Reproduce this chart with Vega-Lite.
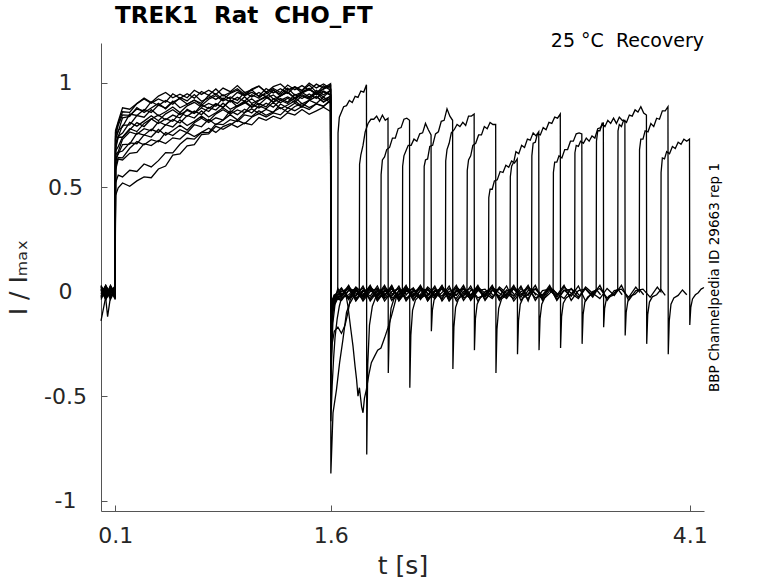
{
"$schema": "https://vega.github.io/schema/vega-lite/v6.json",
"width": 603,
"height": 468,
"autosize": {"type": "none"},
"padding": {"left": 101, "top": 43, "right": 74, "bottom": 72},
"background": "white",
"config": {
"view": {"stroke": null},
"font": "DejaVu Sans",
"axis": {"domainColor": "#555555", "tickColor": "#555555", "labelColor": "#262626", "titleColor": "#262626", "labelFont": "DejaVu Sans", "titleFont": "DejaVu Sans", "grid": false, "titleFontWeight": "normal", "labelFlush": false, "labelOverlap": false}
},
"title": {"text": "TREK1\u00a0\u00a0Rat\u00a0\u00a0CHO_FT", "anchor": "start", "frame": "group", "dx": 14, "dy": 19, "fontSize": 23, "fontWeight": "bold", "font": "DejaVu Sans", "color": "black", "offset": 5, "baseline": "alphabetic"},
"layer": [
{
"data": {"values": [
{"k":1,"t":0,"v":0.012},{"k":1,"t":0.033,"v":-0.025},{"k":1,"t":0.066,"v":0.03},{"k":1,"t":0.099,"v":-0.012},
{"k":1,"t":0.101,"v":0.771},{"k":1,"t":0.12,"v":0.814},{"k":1,"t":0.15,"v":0.88},{"k":1,"t":0.2,"v":0.873},{"k":1,"t":0.25,"v":0.9},{"k":1,"t":0.3,"v":0.927},{"k":1,"t":0.35,"v":0.905},{"k":1,"t":0.4,"v":0.936},{"k":1,"t":0.45,"v":0.953},{"k":1,"t":0.5,"v":0.928},{"k":1,"t":0.55,"v":0.945},{"k":1,"t":0.6,"v":0.928},{"k":1,"t":0.65,"v":0.964},{"k":1,"t":0.7,"v":0.944},{"k":1,"t":0.75,"v":0.964},{"k":1,"t":0.8,"v":0.944},{"k":1,"t":0.85,"v":0.974},{"k":1,"t":0.9,"v":0.957},{"k":1,"t":0.95,"v":0.986},{"k":1,"t":1.0,"v":0.953},{"k":1,"t":1.05,"v":0.966},{"k":1,"t":1.1,"v":0.983},{"k":1,"t":1.15,"v":0.953},{"k":1,"t":1.2,"v":0.981},{"k":1,"t":1.25,"v":0.994},{"k":1,"t":1.3,"v":0.965},{"k":1,"t":1.35,"v":0.981},{"k":1,"t":1.4,"v":0.963},{"k":1,"t":1.45,"v":0.998},{"k":1,"t":1.5,"v":0.975},{"k":1,"t":1.55,"v":0.994},{"k":1,"t":1.599,"v":0.972},
{"k":1,"t":1.601,"v":-0.15},{"k":1,"t":1.612,"v":-0.05},{"k":1,"t":1.63,"v":-0.02},{"k":1,"t":1.649,"v":0},
{"k":1,"t":1.651,"v":0.76},{"k":1,"t":1.66,"v":0.835},{"k":1,"t":1.675,"v":0.86},{"k":1,"t":1.69,"v":0.885},{"k":1,"t":1.71,"v":0.89},{"k":1,"t":1.73,"v":0.915},{"k":1,"t":1.75,"v":0.905},{"k":1,"t":1.77,"v":0.935},{"k":1,"t":1.79,"v":0.93},{"k":1,"t":1.81,"v":0.96},{"k":1,"t":1.83,"v":0.955},{"k":1,"t":1.849,"v":0.99},
{"k":1,"t":1.851,"v":-0.78},{"k":1,"t":1.858,"v":-0.35},{"k":1,"t":1.87,"v":-0.16},{"k":1,"t":1.89,"v":-0.07},{"k":1,"t":1.92,"v":-0.015},{"k":1,"t":1.95,"v":0.008},{"k":1,"t":1.98,"v":-0.015},

{"k":2,"t":0,"v":-0.03},{"k":2,"t":0.033,"v":0.02},{"k":2,"t":0.066,"v":-0.025},{"k":2,"t":0.099,"v":0.012},
{"k":2,"t":0.101,"v":0.762},{"k":2,"t":0.12,"v":0.806},{"k":2,"t":0.15,"v":0.861},{"k":2,"t":0.2,"v":0.858},{"k":2,"t":0.25,"v":0.9},{"k":2,"t":0.3,"v":0.922},{"k":2,"t":0.35,"v":0.902},{"k":2,"t":0.4,"v":0.922},{"k":2,"t":0.45,"v":0.907},{"k":2,"t":0.5,"v":0.947},{"k":2,"t":0.55,"v":0.925},{"k":2,"t":0.6,"v":0.947},{"k":2,"t":0.65,"v":0.926},{"k":2,"t":0.7,"v":0.958},{"k":2,"t":0.75,"v":0.94},{"k":2,"t":0.8,"v":0.97},{"k":2,"t":0.85,"v":0.937},{"k":2,"t":0.9,"v":0.953},{"k":2,"t":0.95,"v":0.971},{"k":2,"t":1.0,"v":0.943},{"k":2,"t":1.05,"v":0.97},{"k":2,"t":1.1,"v":0.984},{"k":2,"t":1.15,"v":0.955},{"k":2,"t":1.2,"v":0.972},{"k":2,"t":1.25,"v":0.953},{"k":2,"t":1.3,"v":0.989},{"k":2,"t":1.35,"v":0.966},{"k":2,"t":1.4,"v":0.986},{"k":2,"t":1.45,"v":0.964},{"k":2,"t":1.5,"v":0.993},{"k":2,"t":1.55,"v":0.974},{"k":2,"t":1.599,"v":0.995},
{"k":2,"t":1.601,"v":-0.87},{"k":2,"t":1.616,"v":-0.58},{"k":2,"t":1.64,"v":-0.47},{"k":2,"t":1.662,"v":-0.34},{"k":2,"t":1.685,"v":-0.23},{"k":2,"t":1.71,"v":-0.1},{"k":2,"t":1.73,"v":-0.06},{"k":2,"t":1.755,"v":-0.03},{"k":2,"t":1.775,"v":0.008},{"k":2,"t":1.799,"v":-0.022},
{"k":2,"t":1.801,"v":0.61},{"k":2,"t":1.81,"v":0.655},{"k":2,"t":1.825,"v":0.7},{"k":2,"t":1.84,"v":0.765},{"k":2,"t":1.86,"v":0.805},{"k":2,"t":1.88,"v":0.825},{"k":2,"t":1.9,"v":0.825},{"k":2,"t":1.92,"v":0.84},{"k":2,"t":1.94,"v":0.815},{"k":2,"t":1.96,"v":0.845},{"k":2,"t":1.98,"v":0.82},{"k":2,"t":1.999,"v":0.83},
{"k":2,"t":2.001,"v":-0.39},{"k":2,"t":2.008,"v":-0.18},{"k":2,"t":2.02,"v":-0.08},{"k":2,"t":2.04,"v":-0.035},{"k":2,"t":2.07,"v":-0.015},{"k":2,"t":2.1,"v":0.012},{"k":2,"t":2.13,"v":-0.018},

{"k":3,"t":0,"v":0.025},{"k":3,"t":0.033,"v":-0.012},{"k":3,"t":0.066,"v":0.008},{"k":3,"t":0.099,"v":-0.038},
{"k":3,"t":0.101,"v":0.744},{"k":3,"t":0.12,"v":0.796},{"k":3,"t":0.15,"v":0.846},{"k":3,"t":0.2,"v":0.844},{"k":3,"t":0.25,"v":0.874},{"k":3,"t":0.3,"v":0.865},{"k":3,"t":0.35,"v":0.909},{"k":3,"t":0.4,"v":0.891},{"k":3,"t":0.45,"v":0.915},{"k":3,"t":0.5,"v":0.897},{"k":3,"t":0.55,"v":0.929},{"k":3,"t":0.6,"v":0.913},{"k":3,"t":0.65,"v":0.943},{"k":3,"t":0.7,"v":0.911},{"k":3,"t":0.75,"v":0.927},{"k":3,"t":0.8,"v":0.947},{"k":3,"t":0.85,"v":0.919},{"k":3,"t":0.9,"v":0.949},{"k":3,"t":0.95,"v":0.964},{"k":3,"t":1.0,"v":0.938},{"k":3,"t":1.05,"v":0.954},{"k":3,"t":1.1,"v":0.936},{"k":3,"t":1.15,"v":0.972},{"k":3,"t":1.2,"v":0.951},{"k":3,"t":1.25,"v":0.971},{"k":3,"t":1.3,"v":0.949},{"k":3,"t":1.35,"v":0.979},{"k":3,"t":1.4,"v":0.961},{"k":3,"t":1.45,"v":0.989},{"k":3,"t":1.5,"v":0.955},{"k":3,"t":1.55,"v":0.969},{"k":3,"t":1.599,"v":0.987},
{"k":3,"t":1.601,"v":-0.62},{"k":3,"t":1.61,"v":-0.45},{"k":3,"t":1.62,"v":-0.32},{"k":3,"t":1.63,"v":-0.22},{"k":3,"t":1.645,"v":-0.13},{"k":3,"t":1.66,"v":-0.07},
{"k":3,"t":1.675,"v":-0.03},{"k":3,"t":1.725,"v":-0.015},{"k":3,"t":1.775,"v":0.018},{"k":3,"t":1.825,"v":-0.038},{"k":3,"t":1.875,"v":0.008},{"k":3,"t":1.925,"v":-0.022},{"k":3,"t":1.949,"v":0},
{"k":3,"t":1.951,"v":0.56},{"k":3,"t":1.96,"v":0.63},{"k":3,"t":1.975,"v":0.645},{"k":3,"t":1.99,"v":0.68},{"k":3,"t":2.01,"v":0.69},{"k":3,"t":2.03,"v":0.735},{"k":3,"t":2.05,"v":0.735},{"k":3,"t":2.07,"v":0.78},{"k":3,"t":2.09,"v":0.785},{"k":3,"t":2.11,"v":0.825},{"k":3,"t":2.13,"v":0.83},{"k":3,"t":2.149,"v":0.82},
{"k":3,"t":2.151,"v":-0.46},{"k":3,"t":2.158,"v":-0.21},{"k":3,"t":2.17,"v":-0.09},{"k":3,"t":2.19,"v":-0.04},{"k":3,"t":2.22,"v":-0.018},{"k":3,"t":2.25,"v":0.01},{"k":3,"t":2.28,"v":-0.015},

{"k":4,"t":0,"v":-0.012},{"k":4,"t":0.033,"v":0.03},{"k":4,"t":0.066,"v":-0.03},{"k":4,"t":0.099,"v":0.018},
{"k":4,"t":0.101,"v":0.726},{"k":4,"t":0.12,"v":0.772},{"k":4,"t":0.15,"v":0.789},{"k":4,"t":0.2,"v":0.85},{"k":4,"t":0.25,"v":0.843},{"k":4,"t":0.3,"v":0.872},{"k":4,"t":0.35,"v":0.858},{"k":4,"t":0.4,"v":0.893},{"k":4,"t":0.45,"v":0.879},{"k":4,"t":0.5,"v":0.912},{"k":4,"t":0.55,"v":0.88},{"k":4,"t":0.6,"v":0.897},{"k":4,"t":0.65,"v":0.917},{"k":4,"t":0.7,"v":0.891},{"k":4,"t":0.75,"v":0.921},{"k":4,"t":0.8,"v":0.938},{"k":4,"t":0.85,"v":0.912},{"k":4,"t":0.9,"v":0.932},{"k":4,"t":0.95,"v":0.915},{"k":4,"t":1.0,"v":0.954},{"k":4,"t":1.05,"v":0.932},{"k":4,"t":1.1,"v":0.953},{"k":4,"t":1.15,"v":0.932},{"k":4,"t":1.2,"v":0.963},{"k":4,"t":1.25,"v":0.945},{"k":4,"t":1.3,"v":0.974},{"k":4,"t":1.35,"v":0.94},{"k":4,"t":1.4,"v":0.955},{"k":4,"t":1.45,"v":0.973},{"k":4,"t":1.5,"v":0.943},{"k":4,"t":1.55,"v":0.971},{"k":4,"t":1.599,"v":0.986},
{"k":4,"t":1.601,"v":-0.3},{"k":4,"t":1.61,"v":-0.1},{"k":4,"t":1.625,"v":-0.04},{"k":4,"t":1.65,"v":0.015},{"k":4,"t":1.675,"v":-0.022},{"k":4,"t":1.7,"v":0.008},
{"k":4,"t":1.72,"v":-0.07},{"k":4,"t":1.74,"v":-0.18},{"k":4,"t":1.755,"v":-0.26},{"k":4,"t":1.77,"v":-0.36},{"k":4,"t":1.78,"v":-0.42},{"k":4,"t":1.79,"v":-0.5},{"k":4,"t":1.8,"v":-0.46},{"k":4,"t":1.815,"v":-0.55},{"k":4,"t":1.825,"v":-0.58},{"k":4,"t":1.835,"v":-0.51},{"k":4,"t":1.848,"v":-0.47},{"k":4,"t":1.865,"v":-0.4},{"k":4,"t":1.883,"v":-0.34},{"k":4,"t":1.905,"v":-0.31},{"k":4,"t":1.927,"v":-0.28},{"k":4,"t":1.95,"v":-0.27},{"k":4,"t":1.976,"v":-0.22},{"k":4,"t":2.0,"v":-0.17},{"k":4,"t":2.022,"v":-0.12},{"k":4,"t":2.045,"v":-0.06},{"k":4,"t":2.06,"v":-0.02},{"k":4,"t":2.075,"v":0.008},{"k":4,"t":2.099,"v":-0.015},
{"k":4,"t":2.101,"v":0.6},{"k":4,"t":2.11,"v":0.65},{"k":4,"t":2.125,"v":0.675},{"k":4,"t":2.14,"v":0.7},{"k":4,"t":2.16,"v":0.7},{"k":4,"t":2.18,"v":0.73},{"k":4,"t":2.2,"v":0.72},{"k":4,"t":2.22,"v":0.755},{"k":4,"t":2.24,"v":0.76},{"k":4,"t":2.26,"v":0.805},{"k":4,"t":2.28,"v":0.775},{"k":4,"t":2.299,"v":0.75},
{"k":4,"t":2.301,"v":-0.19},{"k":4,"t":2.308,"v":-0.09},{"k":4,"t":2.32,"v":-0.04},{"k":4,"t":2.34,"v":-0.02},{"k":4,"t":2.37,"v":-0.008},{"k":4,"t":2.4,"v":0.012},{"k":4,"t":2.43,"v":-0.018},

{"k":5,"t":0,"v":0.008},{"k":5,"t":0.033,"v":-0.038},{"k":5,"t":0.066,"v":0.02},{"k":5,"t":0.099,"v":-0.02},
{"k":5,"t":0.101,"v":0.708},{"k":5,"t":0.12,"v":0.742},{"k":5,"t":0.15,"v":0.796},{"k":5,"t":0.2,"v":0.798},{"k":5,"t":0.25,"v":0.843},{"k":5,"t":0.3,"v":0.835},{"k":5,"t":0.35,"v":0.871},{"k":5,"t":0.4,"v":0.842},{"k":5,"t":0.45,"v":0.861},{"k":5,"t":0.5,"v":0.884},{"k":5,"t":0.55,"v":0.857},{"k":5,"t":0.6,"v":0.889},{"k":5,"t":0.65,"v":0.906},{"k":5,"t":0.7,"v":0.882},{"k":5,"t":0.75,"v":0.901},{"k":5,"t":0.8,"v":0.887},{"k":5,"t":0.85,"v":0.926},{"k":5,"t":0.9,"v":0.908},{"k":5,"t":0.95,"v":0.93},{"k":5,"t":1.0,"v":0.911},{"k":5,"t":1.05,"v":0.942},{"k":5,"t":1.1,"v":0.926},{"k":5,"t":1.15,"v":0.955},{"k":5,"t":1.2,"v":0.922},{"k":5,"t":1.25,"v":0.937},{"k":5,"t":1.3,"v":0.956},{"k":5,"t":1.35,"v":0.927},{"k":5,"t":1.4,"v":0.956},{"k":5,"t":1.45,"v":0.97},{"k":5,"t":1.5,"v":0.943},{"k":5,"t":1.55,"v":0.96},{"k":5,"t":1.599,"v":0.943},
{"k":5,"t":1.601,"v":-0.4},{"k":5,"t":1.61,"v":-0.25},{"k":5,"t":1.625,"v":-0.19},{"k":5,"t":1.65,"v":-0.17},{"k":5,"t":1.675,"v":-0.2},{"k":5,"t":1.7,"v":-0.16},{"k":5,"t":1.72,"v":-0.1},{"k":5,"t":1.735,"v":-0.04},
{"k":5,"t":1.775,"v":0.015},{"k":5,"t":1.825,"v":-0.045},{"k":5,"t":1.875,"v":0},{"k":5,"t":1.925,"v":0.015},{"k":5,"t":1.975,"v":-0.03},{"k":5,"t":2.025,"v":-0.015},{"k":5,"t":2.075,"v":0.018},{"k":5,"t":2.125,"v":-0.038},{"k":5,"t":2.175,"v":0.008},{"k":5,"t":2.225,"v":-0.022},{"k":5,"t":2.249,"v":0},
{"k":5,"t":2.251,"v":0.6},{"k":5,"t":2.26,"v":0.63},{"k":5,"t":2.275,"v":0.635},{"k":5,"t":2.29,"v":0.695},{"k":5,"t":2.31,"v":0.7},{"k":5,"t":2.33,"v":0.755},{"k":5,"t":2.35,"v":0.765},{"k":5,"t":2.37,"v":0.815},{"k":5,"t":2.39,"v":0.82},{"k":5,"t":2.41,"v":0.875},{"k":5,"t":2.43,"v":0.84},{"k":5,"t":2.449,"v":0.82},
{"k":5,"t":2.451,"v":-0.37},{"k":5,"t":2.458,"v":-0.17},{"k":5,"t":2.47,"v":-0.075},{"k":5,"t":2.49,"v":-0.035},{"k":5,"t":2.52,"v":-0.015},{"k":5,"t":2.55,"v":0.008},{"k":5,"t":2.58,"v":-0.022},

{"k":6,"t":0,"v":-0.14},{"k":6,"t":0.033,"v":-0.025},{"k":6,"t":0.066,"v":0.025},{"k":6,"t":0.099,"v":-0.008},
{"k":6,"t":0.101,"v":0.69},{"k":6,"t":0.12,"v":0.744},{"k":6,"t":0.15,"v":0.759},{"k":6,"t":0.2,"v":0.81},{"k":6,"t":0.25,"v":0.792},{"k":6,"t":0.3,"v":0.816},{"k":6,"t":0.35,"v":0.842},{"k":6,"t":0.4,"v":0.818},{"k":6,"t":0.45,"v":0.851},{"k":6,"t":0.5,"v":0.871},{"k":6,"t":0.55,"v":0.847},{"k":6,"t":0.6,"v":0.867},{"k":6,"t":0.65,"v":0.853},{"k":6,"t":0.7,"v":0.894},{"k":6,"t":0.75,"v":0.876},{"k":6,"t":0.8,"v":0.9},{"k":6,"t":0.85,"v":0.882},{"k":6,"t":0.9,"v":0.917},{"k":6,"t":0.95,"v":0.901},{"k":6,"t":1.0,"v":0.933},{"k":6,"t":1.05,"v":0.901},{"k":6,"t":1.1,"v":0.917},{"k":6,"t":1.15,"v":0.936},{"k":6,"t":1.2,"v":0.908},{"k":6,"t":1.25,"v":0.938},{"k":6,"t":1.3,"v":0.953},{"k":6,"t":1.35,"v":0.926},{"k":6,"t":1.4,"v":0.943},{"k":6,"t":1.45,"v":0.926},{"k":6,"t":1.5,"v":0.963},{"k":6,"t":1.55,"v":0.942},{"k":6,"t":1.599,"v":0.964},
{"k":6,"t":1.601,"v":-0.22},{"k":6,"t":1.61,"v":-0.08},{"k":6,"t":1.625,"v":-0.035},
{"k":6,"t":1.675,"v":0.015},{"k":6,"t":1.725,"v":-0.03},{"k":6,"t":1.775,"v":-0.015},{"k":6,"t":1.825,"v":0.018},{"k":6,"t":1.875,"v":-0.038},{"k":6,"t":1.925,"v":0.008},{"k":6,"t":1.975,"v":-0.022},{"k":6,"t":2.025,"v":0.027},{"k":6,"t":2.075,"v":-0.045},{"k":6,"t":2.125,"v":0},{"k":6,"t":2.175,"v":0.015},{"k":6,"t":2.225,"v":-0.03},{"k":6,"t":2.275,"v":-0.015},{"k":6,"t":2.325,"v":0.018},{"k":6,"t":2.375,"v":-0.038},{"k":6,"t":2.399,"v":0},
{"k":6,"t":2.401,"v":0.625},{"k":6,"t":2.41,"v":0.68},{"k":6,"t":2.425,"v":0.71},{"k":6,"t":2.44,"v":0.76},{"k":6,"t":2.46,"v":0.775},{"k":6,"t":2.48,"v":0.8},{"k":6,"t":2.5,"v":0.79},{"k":6,"t":2.52,"v":0.81},{"k":6,"t":2.54,"v":0.795},{"k":6,"t":2.56,"v":0.84},{"k":6,"t":2.58,"v":0.84},{"k":6,"t":2.599,"v":0.85},
{"k":6,"t":2.601,"v":-0.28},{"k":6,"t":2.608,"v":-0.13},{"k":6,"t":2.62,"v":-0.06},{"k":6,"t":2.64,"v":-0.03},{"k":6,"t":2.67,"v":-0.015},{"k":6,"t":2.7,"v":0.01},{"k":6,"t":2.73,"v":-0.018},

{"k":7,"t":0,"v":0.02},{"k":7,"t":0.03,"v":-0.012},{"k":7,"t":0.046,"v":-0.12},{"k":7,"t":0.066,"v":-0.025},{"k":7,"t":0.099,"v":0.008},
{"k":7,"t":0.101,"v":0.672},{"k":7,"t":0.12,"v":0.694},{"k":7,"t":0.15,"v":0.74},{"k":7,"t":0.2,"v":0.78},{"k":7,"t":0.25,"v":0.766},{"k":7,"t":0.3,"v":0.805},{"k":7,"t":0.35,"v":0.827},{"k":7,"t":0.4,"v":0.805},{"k":7,"t":0.45,"v":0.827},{"k":7,"t":0.5,"v":0.815},{"k":7,"t":0.55,"v":0.856},{"k":7,"t":0.6,"v":0.839},{"k":7,"t":0.65,"v":0.864},{"k":7,"t":0.7,"v":0.847},{"k":7,"t":0.75,"v":0.882},{"k":7,"t":0.8,"v":0.869},{"k":7,"t":0.85,"v":0.902},{"k":7,"t":0.9,"v":0.873},{"k":7,"t":0.95,"v":0.89},{"k":7,"t":1.0,"v":0.912},{"k":7,"t":1.05,"v":0.885},{"k":7,"t":1.1,"v":0.915},{"k":7,"t":1.15,"v":0.931},{"k":7,"t":1.2,"v":0.906},{"k":7,"t":1.25,"v":0.924},{"k":7,"t":1.3,"v":0.907},{"k":7,"t":1.35,"v":0.944},{"k":7,"t":1.4,"v":0.924},{"k":7,"t":1.45,"v":0.946},{"k":7,"t":1.5,"v":0.925},{"k":7,"t":1.55,"v":0.956},{"k":7,"t":1.599,"v":0.94},
{"k":7,"t":1.601,"v":-0.12},{"k":7,"t":1.61,"v":-0.05},{"k":7,"t":1.625,"v":-0.02},
{"k":7,"t":1.675,"v":0.018},{"k":7,"t":1.725,"v":-0.038},{"k":7,"t":1.775,"v":0.008},{"k":7,"t":1.825,"v":-0.022},{"k":7,"t":1.875,"v":0.027},{"k":7,"t":1.925,"v":-0.045},{"k":7,"t":1.975,"v":0},{"k":7,"t":2.025,"v":0.015},{"k":7,"t":2.075,"v":-0.03},{"k":7,"t":2.125,"v":-0.015},{"k":7,"t":2.175,"v":0.018},{"k":7,"t":2.225,"v":-0.038},{"k":7,"t":2.275,"v":0.008},{"k":7,"t":2.325,"v":-0.022},{"k":7,"t":2.375,"v":0.027},{"k":7,"t":2.425,"v":-0.045},{"k":7,"t":2.475,"v":0},{"k":7,"t":2.525,"v":0.015},{"k":7,"t":2.549,"v":-0.015},
{"k":7,"t":2.551,"v":0.58},{"k":7,"t":2.56,"v":0.63},{"k":7,"t":2.575,"v":0.65},{"k":7,"t":2.59,"v":0.7},{"k":7,"t":2.61,"v":0.71},{"k":7,"t":2.63,"v":0.75},{"k":7,"t":2.65,"v":0.75},{"k":7,"t":2.67,"v":0.79},{"k":7,"t":2.69,"v":0.78},{"k":7,"t":2.71,"v":0.81},{"k":7,"t":2.73,"v":0.8},{"k":7,"t":2.749,"v":0.8},
{"k":7,"t":2.751,"v":-0.39},{"k":7,"t":2.758,"v":-0.18},{"k":7,"t":2.77,"v":-0.08},{"k":7,"t":2.79,"v":-0.035},{"k":7,"t":2.82,"v":-0.018},{"k":7,"t":2.85,"v":0.01},{"k":7,"t":2.88,"v":-0.015},

{"k":8,"t":0,"v":-0.025},{"k":8,"t":0.033,"v":0.025},{"k":8,"t":0.066,"v":-0.012},{"k":8,"t":0.099,"v":0.025},
{"k":8,"t":0.101,"v":0.654},{"k":8,"t":0.12,"v":0.67},{"k":8,"t":0.15,"v":0.729},{"k":8,"t":0.2,"v":0.764},{"k":8,"t":0.25,"v":0.753},{"k":8,"t":0.3,"v":0.78},{"k":8,"t":0.35,"v":0.77},{"k":8,"t":0.4,"v":0.813},{"k":8,"t":0.45,"v":0.797},{"k":8,"t":0.5,"v":0.824},{"k":8,"t":0.55,"v":0.807},{"k":8,"t":0.6,"v":0.843},{"k":8,"t":0.65,"v":0.831},{"k":8,"t":0.7,"v":0.865},{"k":8,"t":0.75,"v":0.836},{"k":8,"t":0.8,"v":0.856},{"k":8,"t":0.85,"v":0.88},{"k":8,"t":0.9,"v":0.856},{"k":8,"t":0.95,"v":0.887},{"k":8,"t":1.0,"v":0.906},{"k":8,"t":1.05,"v":0.881},{"k":8,"t":1.1,"v":0.9},{"k":8,"t":1.15,"v":0.884},{"k":8,"t":1.2,"v":0.923},{"k":8,"t":1.25,"v":0.904},{"k":8,"t":1.3,"v":0.926},{"k":8,"t":1.35,"v":0.905},{"k":8,"t":1.4,"v":0.937},{"k":8,"t":1.45,"v":0.921},{"k":8,"t":1.5,"v":0.951},{"k":8,"t":1.55,"v":0.919},{"k":8,"t":1.599,"v":0.935},
{"k":8,"t":1.601,"v":-0.3},{"k":8,"t":1.608,"v":-0.15},{"k":8,"t":1.62,"v":-0.06},{"k":8,"t":1.64,"v":-0.03},
{"k":8,"t":1.675,"v":-0.022},{"k":8,"t":1.725,"v":0.027},{"k":8,"t":1.775,"v":-0.045},{"k":8,"t":1.825,"v":0},{"k":8,"t":1.875,"v":0.015},{"k":8,"t":1.925,"v":-0.03},{"k":8,"t":1.975,"v":-0.015},{"k":8,"t":2.025,"v":0.018},{"k":8,"t":2.075,"v":-0.038},{"k":8,"t":2.125,"v":0.008},{"k":8,"t":2.175,"v":-0.022},{"k":8,"t":2.225,"v":0.027},{"k":8,"t":2.275,"v":-0.045},{"k":8,"t":2.325,"v":0},{"k":8,"t":2.375,"v":0.015},{"k":8,"t":2.425,"v":-0.03},{"k":8,"t":2.475,"v":-0.015},{"k":8,"t":2.525,"v":0.018},{"k":8,"t":2.575,"v":-0.038},{"k":8,"t":2.625,"v":0.008},{"k":8,"t":2.675,"v":-0.022},{"k":8,"t":2.699,"v":0.008},
{"k":8,"t":2.701,"v":0.45},{"k":8,"t":2.71,"v":0.49},{"k":8,"t":2.725,"v":0.49},{"k":8,"t":2.74,"v":0.53},{"k":8,"t":2.76,"v":0.535},{"k":8,"t":2.78,"v":0.575},{"k":8,"t":2.8,"v":0.57},{"k":8,"t":2.82,"v":0.605},{"k":8,"t":2.84,"v":0.595},{"k":8,"t":2.86,"v":0.625},{"k":8,"t":2.88,"v":0.615},{"k":8,"t":2.899,"v":0.635},
{"k":8,"t":2.901,"v":-0.3},{"k":8,"t":2.908,"v":-0.14},{"k":8,"t":2.92,"v":-0.06},{"k":8,"t":2.94,"v":-0.03},{"k":8,"t":2.97,"v":-0.015},{"k":8,"t":3.0,"v":0.01},{"k":8,"t":3.03,"v":-0.018},

{"k":9,"t":0,"v":0.03},{"k":9,"t":0.033,"v":-0.02},{"k":9,"t":0.066,"v":0.012},{"k":9,"t":0.099,"v":-0.025},
{"k":9,"t":0.101,"v":0.636},{"k":9,"t":0.12,"v":0.658},{"k":9,"t":0.15,"v":0.704},{"k":9,"t":0.2,"v":0.706},{"k":9,"t":0.25,"v":0.759},{"k":9,"t":0.3,"v":0.749},{"k":9,"t":0.35,"v":0.777},{"k":9,"t":0.4,"v":0.762},{"k":9,"t":0.45,"v":0.799},{"k":9,"t":0.5,"v":0.788},{"k":9,"t":0.55,"v":0.822},{"k":9,"t":0.6,"v":0.795},{"k":9,"t":0.65,"v":0.815},{"k":9,"t":0.7,"v":0.84},{"k":9,"t":0.75,"v":0.816},{"k":9,"t":0.8,"v":0.851},{"k":9,"t":0.85,"v":0.871},{"k":9,"t":0.9,"v":0.85},{"k":9,"t":0.95,"v":0.87},{"k":9,"t":1.0,"v":0.857},{"k":9,"t":1.05,"v":0.897},{"k":9,"t":1.1,"v":0.879},{"k":9,"t":1.15,"v":0.902},{"k":9,"t":1.2,"v":0.883},{"k":9,"t":1.25,"v":0.916},{"k":9,"t":1.3,"v":0.9},{"k":9,"t":1.35,"v":0.93},{"k":9,"t":1.4,"v":0.899},{"k":9,"t":1.45,"v":0.915},{"k":9,"t":1.5,"v":0.935},{"k":9,"t":1.55,"v":0.907},{"k":9,"t":1.599,"v":0.938},
{"k":9,"t":1.601,"v":-0.18},{"k":9,"t":1.61,"v":-0.07},{"k":9,"t":1.625,"v":-0.03},
{"k":9,"t":1.675,"v":0},{"k":9,"t":1.725,"v":0.015},{"k":9,"t":1.775,"v":-0.03},{"k":9,"t":1.825,"v":-0.015},{"k":9,"t":1.875,"v":0.018},{"k":9,"t":1.925,"v":-0.038},{"k":9,"t":1.975,"v":0.008},{"k":9,"t":2.025,"v":-0.022},{"k":9,"t":2.075,"v":0.027},{"k":9,"t":2.125,"v":-0.045},{"k":9,"t":2.175,"v":0},{"k":9,"t":2.225,"v":0.015},{"k":9,"t":2.275,"v":-0.03},{"k":9,"t":2.325,"v":-0.015},{"k":9,"t":2.375,"v":0.018},{"k":9,"t":2.425,"v":-0.038},{"k":9,"t":2.475,"v":0.008},{"k":9,"t":2.525,"v":-0.022},{"k":9,"t":2.575,"v":0.027},{"k":9,"t":2.625,"v":-0.045},{"k":9,"t":2.675,"v":0},{"k":9,"t":2.725,"v":0.015},{"k":9,"t":2.775,"v":-0.03},{"k":9,"t":2.825,"v":-0.015},{"k":9,"t":2.849,"v":0.008},
{"k":9,"t":2.851,"v":0.55},{"k":9,"t":2.86,"v":0.6},{"k":9,"t":2.875,"v":0.62},{"k":9,"t":2.89,"v":0.67},{"k":9,"t":2.91,"v":0.66},{"k":9,"t":2.93,"v":0.7},{"k":9,"t":2.95,"v":0.69},{"k":9,"t":2.97,"v":0.73},{"k":9,"t":2.99,"v":0.725},{"k":9,"t":3.01,"v":0.76},{"k":9,"t":3.03,"v":0.745},{"k":9,"t":3.049,"v":0.765},
{"k":9,"t":3.051,"v":-0.28},{"k":9,"t":3.058,"v":-0.13},{"k":9,"t":3.07,"v":-0.06},{"k":9,"t":3.09,"v":-0.03},{"k":9,"t":3.12,"v":-0.012},{"k":9,"t":3.15,"v":0.01},{"k":9,"t":3.18,"v":-0.018},

{"k":10,"t":0,"v":-0.008},{"k":10,"t":0.033,"v":0.012},{"k":10,"t":0.066,"v":-0.038},{"k":10,"t":0.099,"v":0.008},
{"k":10,"t":0.101,"v":0.618},{"k":10,"t":0.12,"v":0.666},{"k":10,"t":0.15,"v":0.673},{"k":10,"t":0.2,"v":0.712},{"k":10,"t":0.25,"v":0.708},{"k":10,"t":0.3,"v":0.75},{"k":10,"t":0.35,"v":0.74},{"k":10,"t":0.4,"v":0.776},{"k":10,"t":0.45,"v":0.749},{"k":10,"t":0.5,"v":0.771},{"k":10,"t":0.55,"v":0.796},{"k":10,"t":0.6,"v":0.773},{"k":10,"t":0.65,"v":0.808},{"k":10,"t":0.7,"v":0.83},{"k":10,"t":0.75,"v":0.809},{"k":10,"t":0.8,"v":0.832},{"k":10,"t":0.85,"v":0.821},{"k":10,"t":0.9,"v":0.865},{"k":10,"t":0.95,"v":0.847},{"k":10,"t":1.0,"v":0.873},{"k":10,"t":1.05,"v":0.855},{"k":10,"t":1.1,"v":0.889},{"k":10,"t":1.15,"v":0.875},{"k":10,"t":1.2,"v":0.906},{"k":10,"t":1.25,"v":0.876},{"k":10,"t":1.3,"v":0.893},{"k":10,"t":1.35,"v":0.913},{"k":10,"t":1.4,"v":0.886},{"k":10,"t":1.45,"v":0.916},{"k":10,"t":1.5,"v":0.933},{"k":10,"t":1.55,"v":0.908},{"k":10,"t":1.599,"v":0.926},
{"k":10,"t":1.601,"v":-0.25},{"k":10,"t":1.61,"v":-0.1},{"k":10,"t":1.63,"v":-0.04},
{"k":10,"t":1.675,"v":-0.015},{"k":10,"t":1.725,"v":0.018},{"k":10,"t":1.775,"v":-0.038},{"k":10,"t":1.825,"v":0.008},{"k":10,"t":1.875,"v":-0.022},{"k":10,"t":1.925,"v":0.027},{"k":10,"t":1.975,"v":-0.045},{"k":10,"t":2.025,"v":0},{"k":10,"t":2.075,"v":0.015},{"k":10,"t":2.125,"v":-0.03},{"k":10,"t":2.175,"v":-0.015},{"k":10,"t":2.225,"v":0.018},{"k":10,"t":2.275,"v":-0.038},{"k":10,"t":2.325,"v":0.008},{"k":10,"t":2.375,"v":-0.022},{"k":10,"t":2.425,"v":0.027},{"k":10,"t":2.475,"v":-0.045},{"k":10,"t":2.525,"v":0},{"k":10,"t":2.575,"v":0.015},{"k":10,"t":2.625,"v":-0.03},{"k":10,"t":2.675,"v":-0.015},{"k":10,"t":2.725,"v":0.018},{"k":10,"t":2.775,"v":-0.038},{"k":10,"t":2.825,"v":0.008},{"k":10,"t":2.875,"v":-0.022},{"k":10,"t":2.925,"v":0.027},{"k":10,"t":2.975,"v":-0.045},{"k":10,"t":2.999,"v":0},
{"k":10,"t":3.001,"v":0.65},{"k":10,"t":3.01,"v":0.71},{"k":10,"t":3.025,"v":0.715},{"k":10,"t":3.04,"v":0.755},{"k":10,"t":3.06,"v":0.75},{"k":10,"t":3.08,"v":0.785},{"k":10,"t":3.1,"v":0.775},{"k":10,"t":3.12,"v":0.81},{"k":10,"t":3.14,"v":0.805},{"k":10,"t":3.16,"v":0.835},{"k":10,"t":3.18,"v":0.83},{"k":10,"t":3.199,"v":0.85},
{"k":10,"t":3.201,"v":-0.27},{"k":10,"t":3.208,"v":-0.12},{"k":10,"t":3.22,"v":-0.055},{"k":10,"t":3.24,"v":-0.03},{"k":10,"t":3.27,"v":-0.015},{"k":10,"t":3.3,"v":0.01},{"k":10,"t":3.33,"v":-0.018},

{"k":11,"t":0,"v":0.02},{"k":11,"t":0.033,"v":-0.03},{"k":11,"t":0.066,"v":0.025},{"k":11,"t":0.099,"v":-0.012},
{"k":11,"t":0.101,"v":0.58},{"k":11,"t":0.12,"v":0.634},{"k":11,"t":0.15,"v":0.63},{"k":11,"t":0.2,"v":0.662},{"k":11,"t":0.25,"v":0.666},{"k":11,"t":0.3,"v":0.708},{"k":11,"t":0.35,"v":0.699},{"k":11,"t":0.4,"v":0.723},{"k":11,"t":0.45,"v":0.709},{"k":11,"t":0.5,"v":0.736},{"k":11,"t":0.55,"v":0.73},{"k":11,"t":0.6,"v":0.761},{"k":11,"t":0.65,"v":0.742},{"k":11,"t":0.7,"v":0.762},{"k":11,"t":0.75,"v":0.782},{"k":11,"t":0.8,"v":0.762},{"k":11,"t":0.85,"v":0.79},{"k":11,"t":0.9,"v":0.804},{"k":11,"t":0.95,"v":0.787},{"k":11,"t":1.0,"v":0.807},{"k":11,"t":1.05,"v":0.798},{"k":11,"t":1.1,"v":0.833},{"k":11,"t":1.15,"v":0.82},{"k":11,"t":1.2,"v":0.84},{"k":11,"t":1.25,"v":0.827},{"k":11,"t":1.3,"v":0.856},{"k":11,"t":1.35,"v":0.845},{"k":11,"t":1.4,"v":0.872},{"k":11,"t":1.45,"v":0.849},{"k":11,"t":1.5,"v":0.865},{"k":11,"t":1.55,"v":0.883},{"k":11,"t":1.599,"v":0.862},
{"k":11,"t":1.601,"v":-0.5},{"k":11,"t":1.606,"v":-0.3},{"k":11,"t":1.615,"v":-0.15},{"k":11,"t":1.63,"v":-0.06},{"k":11,"t":1.65,"v":-0.03},
{"k":11,"t":1.675,"v":0.012},{"k":11,"t":1.725,"v":-0.027},{"k":11,"t":1.775,"v":0.022},{"k":11,"t":1.825,"v":-0.008},{"k":11,"t":1.875,"v":-0.033},{"k":11,"t":1.925,"v":0.015},{"k":11,"t":1.975,"v":-0.018},{"k":11,"t":2.025,"v":0.03},{"k":11,"t":2.075,"v":-0.042},{"k":11,"t":2.125,"v":0.005},{"k":11,"t":2.175,"v":0.012},{"k":11,"t":2.225,"v":-0.027},{"k":11,"t":2.275,"v":0.022},{"k":11,"t":2.325,"v":-0.008},{"k":11,"t":2.375,"v":-0.033},{"k":11,"t":2.425,"v":0.015},{"k":11,"t":2.475,"v":-0.018},{"k":11,"t":2.525,"v":0.03},{"k":11,"t":2.575,"v":-0.042},{"k":11,"t":2.625,"v":0.005},{"k":11,"t":2.675,"v":0.012},{"k":11,"t":2.725,"v":-0.027},{"k":11,"t":2.775,"v":0.022},{"k":11,"t":2.825,"v":-0.008},{"k":11,"t":2.875,"v":-0.033},{"k":11,"t":2.925,"v":0.015},{"k":11,"t":2.975,"v":-0.018},{"k":11,"t":3.025,"v":0.03},{"k":11,"t":3.075,"v":-0.042},{"k":11,"t":3.125,"v":0.005},{"k":11,"t":3.149,"v":-0.008},
{"k":11,"t":3.151,"v":0.57},{"k":11,"t":3.16,"v":0.62},{"k":11,"t":3.175,"v":0.62},{"k":11,"t":3.19,"v":0.65},{"k":11,"t":3.21,"v":0.64},{"k":11,"t":3.23,"v":0.68},{"k":11,"t":3.25,"v":0.68},{"k":11,"t":3.27,"v":0.72},{"k":11,"t":3.29,"v":0.72},{"k":11,"t":3.31,"v":0.755},{"k":11,"t":3.33,"v":0.76},{"k":11,"t":3.349,"v":0.755},
{"k":11,"t":3.351,"v":-0.25},{"k":11,"t":3.358,"v":-0.11},{"k":11,"t":3.37,"v":-0.05},{"k":11,"t":3.39,"v":-0.025},{"k":11,"t":3.42,"v":-0.012},{"k":11,"t":3.45,"v":0.01},{"k":11,"t":3.48,"v":-0.015},

{"k":12,"t":0,"v":-0.038},{"k":12,"t":0.033,"v":0.008},{"k":12,"t":0.066,"v":-0.012},{"k":12,"t":0.099,"v":0.03},
{"k":12,"t":0.101,"v":0.52},{"k":12,"t":0.12,"v":0.558},{"k":12,"t":0.15,"v":0.549},{"k":12,"t":0.2,"v":0.581},{"k":12,"t":0.25,"v":0.575},{"k":12,"t":0.3,"v":0.611},{"k":12,"t":0.35,"v":0.597},{"k":12,"t":0.4,"v":0.627},{"k":12,"t":0.45,"v":0.665},{"k":12,"t":0.5,"v":0.664},{"k":12,"t":0.55,"v":0.705},{"k":12,"t":0.6,"v":0.734},{"k":12,"t":0.65,"v":0.73},{"k":12,"t":0.7,"v":0.762},{"k":12,"t":0.75,"v":0.761},{"k":12,"t":0.8,"v":0.803},{"k":12,"t":0.85,"v":0.799},{"k":12,"t":0.9,"v":0.823},{"k":12,"t":0.95,"v":0.814},{"k":12,"t":1.0,"v":0.846},{"k":12,"t":1.05,"v":0.838},{"k":12,"t":1.1,"v":0.866},{"k":12,"t":1.15,"v":0.844},{"k":12,"t":1.2,"v":0.861},{"k":12,"t":1.25,"v":0.88},{"k":12,"t":1.3,"v":0.86},{"k":12,"t":1.35,"v":0.886},{"k":12,"t":1.4,"v":0.9},{"k":12,"t":1.45,"v":0.881},{"k":12,"t":1.5,"v":0.898},{"k":12,"t":1.55,"v":0.886},{"k":12,"t":1.599,"v":0.918},
{"k":12,"t":1.601,"v":-0.14},{"k":12,"t":1.61,"v":-0.06},{"k":12,"t":1.625,"v":-0.02},
{"k":12,"t":1.675,"v":-0.008},{"k":12,"t":1.725,"v":-0.033},{"k":12,"t":1.775,"v":0.015},{"k":12,"t":1.825,"v":-0.018},{"k":12,"t":1.875,"v":0.03},{"k":12,"t":1.925,"v":-0.042},{"k":12,"t":1.975,"v":0.005},{"k":12,"t":2.025,"v":0.012},{"k":12,"t":2.075,"v":-0.027},{"k":12,"t":2.125,"v":0.022},{"k":12,"t":2.175,"v":-0.008},{"k":12,"t":2.225,"v":-0.033},{"k":12,"t":2.275,"v":0.015},{"k":12,"t":2.325,"v":-0.018},{"k":12,"t":2.375,"v":0.03},{"k":12,"t":2.425,"v":-0.042},{"k":12,"t":2.475,"v":0.005},{"k":12,"t":2.525,"v":0.012},{"k":12,"t":2.575,"v":-0.027},{"k":12,"t":2.625,"v":0.022},{"k":12,"t":2.675,"v":-0.008},{"k":12,"t":2.725,"v":-0.033},{"k":12,"t":2.775,"v":0.015},{"k":12,"t":2.825,"v":-0.018},{"k":12,"t":2.875,"v":0.03},{"k":12,"t":2.925,"v":-0.042},{"k":12,"t":2.975,"v":0.005},{"k":12,"t":3.025,"v":0.012},{"k":12,"t":3.075,"v":-0.027},{"k":12,"t":3.125,"v":0.022},{"k":12,"t":3.175,"v":-0.008},{"k":12,"t":3.225,"v":-0.033},{"k":12,"t":3.275,"v":0.015},{"k":12,"t":3.299,"v":0},
{"k":12,"t":3.301,"v":0.665},{"k":12,"t":3.31,"v":0.7},{"k":12,"t":3.325,"v":0.695},{"k":12,"t":3.34,"v":0.72},{"k":12,"t":3.36,"v":0.71},{"k":12,"t":3.38,"v":0.735},{"k":12,"t":3.4,"v":0.72},{"k":12,"t":3.42,"v":0.745},{"k":12,"t":3.44,"v":0.735},{"k":12,"t":3.46,"v":0.78},{"k":12,"t":3.48,"v":0.785},{"k":12,"t":3.499,"v":0.81},
{"k":12,"t":3.501,"v":-0.17},{"k":12,"t":3.508,"v":-0.08},{"k":12,"t":3.52,"v":-0.035},{"k":12,"t":3.54,"v":-0.02},{"k":12,"t":3.57,"v":-0.01},{"k":12,"t":3.6,"v":0.012},{"k":12,"t":3.63,"v":-0.015},

{"k":13,"t":0,"v":0},{"k":13,"t":0.033,"v":0.025},{"k":13,"t":0.066,"v":-0.025},{"k":13,"t":0.099,"v":-0.008},
{"k":13,"t":0.101,"v":0.46},{"k":13,"t":0.12,"v":0.497},{"k":13,"t":0.15,"v":0.52},{"k":13,"t":0.2,"v":0.504},{"k":13,"t":0.25,"v":0.53},{"k":13,"t":0.3,"v":0.549},{"k":13,"t":0.35,"v":0.545},{"k":13,"t":0.4,"v":0.587},{"k":13,"t":0.45,"v":0.601},{"k":13,"t":0.5,"v":0.653},{"k":13,"t":0.55,"v":0.659},{"k":13,"t":0.6,"v":0.698},{"k":13,"t":0.65,"v":0.704},{"k":13,"t":0.7,"v":0.751},{"k":13,"t":0.75,"v":0.755},{"k":13,"t":0.8,"v":0.791},{"k":13,"t":0.85,"v":0.777},{"k":13,"t":0.9,"v":0.797},{"k":13,"t":0.95,"v":0.82},{"k":13,"t":1.0,"v":0.804},{"k":13,"t":1.05,"v":0.835},{"k":13,"t":1.1,"v":0.852},{"k":13,"t":1.15,"v":0.836},{"k":13,"t":1.2,"v":0.855},{"k":13,"t":1.25,"v":0.846},{"k":13,"t":1.3,"v":0.879},{"k":13,"t":1.35,"v":0.866},{"k":13,"t":1.4,"v":0.886},{"k":13,"t":1.45,"v":0.872},{"k":13,"t":1.5,"v":0.899},{"k":13,"t":1.55,"v":0.888},{"k":13,"t":1.599,"v":0.913},
{"k":13,"t":1.601,"v":-0.2},{"k":13,"t":1.61,"v":-0.09},{"k":13,"t":1.63,"v":-0.03},
{"k":13,"t":1.675,"v":-0.018},{"k":13,"t":1.725,"v":0.03},{"k":13,"t":1.775,"v":-0.042},{"k":13,"t":1.825,"v":0.005},{"k":13,"t":1.875,"v":0.012},{"k":13,"t":1.925,"v":-0.027},{"k":13,"t":1.975,"v":0.022},{"k":13,"t":2.025,"v":-0.008},{"k":13,"t":2.075,"v":-0.033},{"k":13,"t":2.125,"v":0.015},{"k":13,"t":2.175,"v":-0.018},{"k":13,"t":2.225,"v":0.03},{"k":13,"t":2.275,"v":-0.042},{"k":13,"t":2.325,"v":0.005},{"k":13,"t":2.375,"v":0.012},{"k":13,"t":2.425,"v":-0.027},{"k":13,"t":2.475,"v":0.022},{"k":13,"t":2.525,"v":-0.008},{"k":13,"t":2.575,"v":-0.033},{"k":13,"t":2.625,"v":0.015},{"k":13,"t":2.675,"v":-0.018},{"k":13,"t":2.725,"v":0.03},{"k":13,"t":2.775,"v":-0.042},{"k":13,"t":2.825,"v":0.005},{"k":13,"t":2.875,"v":0.012},{"k":13,"t":2.925,"v":-0.027},{"k":13,"t":2.975,"v":0.022},{"k":13,"t":3.025,"v":-0.008},{"k":13,"t":3.075,"v":-0.033},{"k":13,"t":3.125,"v":0.015},{"k":13,"t":3.175,"v":-0.018},{"k":13,"t":3.225,"v":0.03},{"k":13,"t":3.275,"v":-0.042},{"k":13,"t":3.325,"v":0.005},{"k":13,"t":3.375,"v":0.012},{"k":13,"t":3.425,"v":-0.027},{"k":13,"t":3.449,"v":0},
{"k":13,"t":3.451,"v":0.72},{"k":13,"t":3.46,"v":0.77},{"k":13,"t":3.475,"v":0.77},{"k":13,"t":3.49,"v":0.805},{"k":13,"t":3.51,"v":0.79},{"k":13,"t":3.53,"v":0.82},{"k":13,"t":3.55,"v":0.805},{"k":13,"t":3.57,"v":0.83},{"k":13,"t":3.59,"v":0.805},{"k":13,"t":3.61,"v":0.835},{"k":13,"t":3.63,"v":0.82},{"k":13,"t":3.649,"v":0.82},
{"k":13,"t":3.651,"v":-0.21},{"k":13,"t":3.658,"v":-0.1},{"k":13,"t":3.67,"v":-0.045},{"k":13,"t":3.69,"v":-0.02},{"k":13,"t":3.72,"v":-0.012},{"k":13,"t":3.75,"v":0.01},{"k":13,"t":3.78,"v":-0.015},

{"k":14,"t":0,"v":0.025},{"k":14,"t":0.033,"v":-0.008},{"k":14,"t":0.066,"v":0.02},{"k":14,"t":0.099,"v":-0.03},
{"k":14,"t":0.101,"v":0.735},{"k":14,"t":0.12,"v":0.766},{"k":14,"t":0.15,"v":0.832},{"k":14,"t":0.2,"v":0.839},{"k":14,"t":0.25,"v":0.881},{"k":14,"t":0.3,"v":0.857},{"k":14,"t":0.35,"v":0.879},{"k":14,"t":0.4,"v":0.901},{"k":14,"t":0.45,"v":0.875},{"k":14,"t":0.5,"v":0.907},{"k":14,"t":0.55,"v":0.923},{"k":14,"t":0.6,"v":0.898},{"k":14,"t":0.65,"v":0.916},{"k":14,"t":0.7,"v":0.901},{"k":14,"t":0.75,"v":0.939},{"k":14,"t":0.8,"v":0.92},{"k":14,"t":0.85,"v":0.942},{"k":14,"t":0.9,"v":0.922},{"k":14,"t":0.95,"v":0.954},{"k":14,"t":1.0,"v":0.938},{"k":14,"t":1.05,"v":0.966},{"k":14,"t":1.1,"v":0.933},{"k":14,"t":1.15,"v":0.947},{"k":14,"t":1.2,"v":0.966},{"k":14,"t":1.25,"v":0.936},{"k":14,"t":1.3,"v":0.964},{"k":14,"t":1.35,"v":0.978},{"k":14,"t":1.4,"v":0.951},{"k":14,"t":1.45,"v":0.967},{"k":14,"t":1.5,"v":0.949},{"k":14,"t":1.55,"v":0.985},{"k":14,"t":1.599,"v":0.964},
{"k":14,"t":1.601,"v":-0.1},{"k":14,"t":1.61,"v":-0.04},{"k":14,"t":1.625,"v":-0.015},
{"k":14,"t":1.675,"v":-0.038},{"k":14,"t":1.725,"v":0.008},{"k":14,"t":1.775,"v":-0.022},{"k":14,"t":1.825,"v":0.027},{"k":14,"t":1.875,"v":-0.045},{"k":14,"t":1.925,"v":0},{"k":14,"t":1.975,"v":0.015},{"k":14,"t":2.025,"v":-0.03},{"k":14,"t":2.075,"v":-0.015},{"k":14,"t":2.125,"v":0.018},{"k":14,"t":2.175,"v":-0.038},{"k":14,"t":2.225,"v":0.008},{"k":14,"t":2.275,"v":-0.022},{"k":14,"t":2.325,"v":0.027},{"k":14,"t":2.375,"v":-0.045},{"k":14,"t":2.425,"v":0},{"k":14,"t":2.475,"v":0.015},{"k":14,"t":2.525,"v":-0.03},{"k":14,"t":2.575,"v":-0.015},{"k":14,"t":2.625,"v":0.018},{"k":14,"t":2.675,"v":-0.038},{"k":14,"t":2.725,"v":0.008},{"k":14,"t":2.775,"v":-0.022},{"k":14,"t":2.825,"v":0.027},{"k":14,"t":2.875,"v":-0.045},{"k":14,"t":2.925,"v":0},{"k":14,"t":2.975,"v":0.015},{"k":14,"t":3.025,"v":-0.03},{"k":14,"t":3.075,"v":-0.015},{"k":14,"t":3.125,"v":0.018},{"k":14,"t":3.175,"v":-0.038},{"k":14,"t":3.225,"v":0.008},{"k":14,"t":3.275,"v":-0.022},{"k":14,"t":3.325,"v":0.027},{"k":14,"t":3.375,"v":-0.045},{"k":14,"t":3.425,"v":0},{"k":14,"t":3.475,"v":0.015},{"k":14,"t":3.525,"v":-0.03},{"k":14,"t":3.575,"v":-0.015},{"k":14,"t":3.599,"v":0.008},
{"k":14,"t":3.601,"v":0.77},{"k":14,"t":3.61,"v":0.8},{"k":14,"t":3.625,"v":0.79},{"k":14,"t":3.64,"v":0.82},{"k":14,"t":3.66,"v":0.81},{"k":14,"t":3.68,"v":0.845},{"k":14,"t":3.7,"v":0.84},{"k":14,"t":3.72,"v":0.87},{"k":14,"t":3.74,"v":0.86},{"k":14,"t":3.76,"v":0.885},{"k":14,"t":3.78,"v":0.855},{"k":14,"t":3.799,"v":0.845},
{"k":14,"t":3.801,"v":-0.25},{"k":14,"t":3.808,"v":-0.11},{"k":14,"t":3.82,"v":-0.05},{"k":14,"t":3.84,"v":-0.025},{"k":14,"t":3.87,"v":-0.015},{"k":14,"t":3.9,"v":0.01},{"k":14,"t":3.93,"v":-0.018},

{"k":15,"t":0,"v":-0.02},{"k":15,"t":0.033,"v":0.03},{"k":15,"t":0.066,"v":-0.008},{"k":15,"t":0.099,"v":0.012},
{"k":15,"t":0.101,"v":0.681},{"k":15,"t":0.12,"v":0.74},{"k":15,"t":0.15,"v":0.739},{"k":15,"t":0.2,"v":0.775},{"k":15,"t":0.25,"v":0.809},{"k":15,"t":0.3,"v":0.79},{"k":15,"t":0.35,"v":0.826},{"k":15,"t":0.4,"v":0.845},{"k":15,"t":0.45,"v":0.823},{"k":15,"t":0.5,"v":0.845},{"k":15,"t":0.55,"v":0.831},{"k":15,"t":0.6,"v":0.872},{"k":15,"t":0.65,"v":0.854},{"k":15,"t":0.7,"v":0.879},{"k":15,"t":0.75,"v":0.862},{"k":15,"t":0.8,"v":0.897},{"k":15,"t":0.85,"v":0.883},{"k":15,"t":0.9,"v":0.916},{"k":15,"t":0.95,"v":0.885},{"k":15,"t":1.0,"v":0.902},{"k":15,"t":1.05,"v":0.923},{"k":15,"t":1.1,"v":0.895},{"k":15,"t":1.15,"v":0.925},{"k":15,"t":1.2,"v":0.941},{"k":15,"t":1.25,"v":0.915},{"k":15,"t":1.3,"v":0.932},{"k":15,"t":1.35,"v":0.915},{"k":15,"t":1.4,"v":0.953},{"k":15,"t":1.45,"v":0.932},{"k":15,"t":1.5,"v":0.953},{"k":15,"t":1.55,"v":0.932},{"k":15,"t":1.599,"v":0.964},
{"k":15,"t":1.601,"v":-0.35},{"k":15,"t":1.607,"v":-0.2},{"k":15,"t":1.617,"v":-0.09},{"k":15,"t":1.635,"v":-0.04},
{"k":15,"t":1.675,"v":-0.027},{"k":15,"t":1.725,"v":0.022},{"k":15,"t":1.775,"v":-0.008},{"k":15,"t":1.825,"v":-0.033},{"k":15,"t":1.875,"v":0.015},{"k":15,"t":1.925,"v":-0.018},{"k":15,"t":1.975,"v":0.03},{"k":15,"t":2.025,"v":-0.042},{"k":15,"t":2.075,"v":0.005},{"k":15,"t":2.125,"v":0.012},{"k":15,"t":2.175,"v":-0.027},{"k":15,"t":2.225,"v":0.022},{"k":15,"t":2.275,"v":-0.008},{"k":15,"t":2.325,"v":-0.033},{"k":15,"t":2.375,"v":0.015},{"k":15,"t":2.425,"v":-0.018},{"k":15,"t":2.475,"v":0.03},{"k":15,"t":2.525,"v":-0.042},{"k":15,"t":2.575,"v":0.005},{"k":15,"t":2.625,"v":0.012},{"k":15,"t":2.675,"v":-0.027},{"k":15,"t":2.725,"v":0.022},{"k":15,"t":2.775,"v":-0.008},{"k":15,"t":2.825,"v":-0.033},{"k":15,"t":2.875,"v":0.015},{"k":15,"t":2.925,"v":-0.018},{"k":15,"t":2.975,"v":0.03},{"k":15,"t":3.025,"v":-0.042},{"k":15,"t":3.075,"v":0.005},{"k":15,"t":3.125,"v":0.012},{"k":15,"t":3.175,"v":-0.027},{"k":15,"t":3.225,"v":0.022},{"k":15,"t":3.275,"v":-0.008},{"k":15,"t":3.325,"v":-0.033},{"k":15,"t":3.375,"v":0.015},{"k":15,"t":3.425,"v":-0.018},{"k":15,"t":3.475,"v":0.03},{"k":15,"t":3.525,"v":-0.042},{"k":15,"t":3.575,"v":0.005},{"k":15,"t":3.625,"v":0.012},{"k":15,"t":3.675,"v":-0.027},{"k":15,"t":3.725,"v":0.022},{"k":15,"t":3.749,"v":0},
{"k":15,"t":3.751,"v":0.68},{"k":15,"t":3.76,"v":0.73},{"k":15,"t":3.775,"v":0.73},{"k":15,"t":3.79,"v":0.77},{"k":15,"t":3.81,"v":0.765},{"k":15,"t":3.83,"v":0.805},{"k":15,"t":3.85,"v":0.79},{"k":15,"t":3.87,"v":0.83},{"k":15,"t":3.89,"v":0.825},{"k":15,"t":3.91,"v":0.865},{"k":15,"t":3.93,"v":0.865},{"k":15,"t":3.949,"v":0.885},
{"k":15,"t":3.951,"v":-0.3},{"k":15,"t":3.958,"v":-0.14},{"k":15,"t":3.97,"v":-0.06},{"k":15,"t":3.99,"v":-0.03},{"k":15,"t":4.02,"v":-0.018},{"k":15,"t":4.05,"v":0.008},{"k":15,"t":4.08,"v":-0.015},

{"k":16,"t":0,"v":0.012},{"k":16,"t":0.033,"v":-0.038},{"k":16,"t":0.066,"v":0},{"k":16,"t":0.099,"v":0.025},
{"k":16,"t":0.101,"v":0.6},{"k":16,"t":0.12,"v":0.642},{"k":16,"t":0.15,"v":0.64},{"k":16,"t":0.2,"v":0.686},{"k":16,"t":0.25,"v":0.718},{"k":16,"t":0.3,"v":0.703},{"k":16,"t":0.35,"v":0.727},{"k":16,"t":0.4,"v":0.717},{"k":16,"t":0.45,"v":0.761},{"k":16,"t":0.5,"v":0.747},{"k":16,"t":0.55,"v":0.775},{"k":16,"t":0.6,"v":0.761},{"k":16,"t":0.65,"v":0.799},{"k":16,"t":0.7,"v":0.789},{"k":16,"t":0.75,"v":0.825},{"k":16,"t":0.8,"v":0.799},{"k":16,"t":0.85,"v":0.821},{"k":16,"t":0.9,"v":0.847},{"k":16,"t":0.95,"v":0.822},{"k":16,"t":1.0,"v":0.856},{"k":16,"t":1.05,"v":0.875},{"k":16,"t":1.1,"v":0.852},{"k":16,"t":1.15,"v":0.872},{"k":16,"t":1.2,"v":0.858},{"k":16,"t":1.25,"v":0.898},{"k":16,"t":1.3,"v":0.879},{"k":16,"t":1.35,"v":0.902},{"k":16,"t":1.4,"v":0.883},{"k":16,"t":1.45,"v":0.916},{"k":16,"t":1.5,"v":0.901},{"k":16,"t":1.55,"v":0.932},{"k":16,"t":1.599,"v":0.901},
{"k":16,"t":1.601,"v":-0.16},{"k":16,"t":1.61,"v":-0.07},{"k":16,"t":1.625,"v":-0.03},
{"k":16,"t":1.675,"v":-0.042},{"k":16,"t":1.725,"v":0.005},{"k":16,"t":1.775,"v":0.012},{"k":16,"t":1.825,"v":-0.027},{"k":16,"t":1.875,"v":0.022},{"k":16,"t":1.925,"v":-0.008},{"k":16,"t":1.975,"v":-0.033},{"k":16,"t":2.025,"v":0.015},{"k":16,"t":2.075,"v":-0.018},{"k":16,"t":2.125,"v":0.03},{"k":16,"t":2.175,"v":-0.042},{"k":16,"t":2.225,"v":0.005},{"k":16,"t":2.275,"v":0.012},{"k":16,"t":2.325,"v":-0.027},{"k":16,"t":2.375,"v":0.022},{"k":16,"t":2.425,"v":-0.008},{"k":16,"t":2.475,"v":-0.033},{"k":16,"t":2.525,"v":0.015},{"k":16,"t":2.575,"v":-0.018},{"k":16,"t":2.625,"v":0.03},{"k":16,"t":2.675,"v":-0.042},{"k":16,"t":2.725,"v":0.005},{"k":16,"t":2.775,"v":0.012},{"k":16,"t":2.825,"v":-0.027},{"k":16,"t":2.875,"v":0.022},{"k":16,"t":2.925,"v":-0.008},{"k":16,"t":2.975,"v":-0.033},{"k":16,"t":3.025,"v":0.015},{"k":16,"t":3.075,"v":-0.018},{"k":16,"t":3.125,"v":0.03},{"k":16,"t":3.175,"v":-0.042},{"k":16,"t":3.225,"v":0.005},{"k":16,"t":3.275,"v":0.012},{"k":16,"t":3.325,"v":-0.027},{"k":16,"t":3.375,"v":0.022},{"k":16,"t":3.425,"v":-0.008},{"k":16,"t":3.475,"v":-0.033},{"k":16,"t":3.525,"v":0.015},{"k":16,"t":3.575,"v":-0.018},{"k":16,"t":3.625,"v":0.03},{"k":16,"t":3.675,"v":-0.042},{"k":16,"t":3.725,"v":0.005},{"k":16,"t":3.775,"v":0.012},{"k":16,"t":3.825,"v":-0.027},{"k":16,"t":3.875,"v":0.022},{"k":16,"t":3.899,"v":0},
{"k":16,"t":3.901,"v":0.57},{"k":16,"t":3.91,"v":0.64},{"k":16,"t":3.925,"v":0.635},{"k":16,"t":3.94,"v":0.67},{"k":16,"t":3.96,"v":0.66},{"k":16,"t":3.98,"v":0.695},{"k":16,"t":4.0,"v":0.685},{"k":16,"t":4.02,"v":0.715},{"k":16,"t":4.04,"v":0.705},{"k":16,"t":4.06,"v":0.73},{"k":16,"t":4.08,"v":0.72},{"k":16,"t":4.099,"v":0.73},
{"k":16,"t":4.101,"v":-0.16},{"k":16,"t":4.108,"v":-0.075},{"k":16,"t":4.12,"v":-0.035},{"k":16,"t":4.14,"v":-0.015},{"k":16,"t":4.16,"v":-0.005},{"k":16,"t":4.18,"v":0.012},{"k":16,"t":4.2,"v":0.02}
]},
"mark": {"type": "line", "color": "black", "strokeWidth": 1.3},
"encoding": {
"x": {"field": "t", "type": "quantitative", "scale": {"domain": [0, 4.2], "nice": false, "zero": false},
"axis": {"orient": "bottom", "values": [0.1, 1.6, 4.1], "labelExpr": "'' + datum.value", "title": "t [s]", "titleFontSize": 25, "labelFontSize": 22, "tickSize": -6, "labelPadding": 20, "titlePadding": 7}},
"y": {"field": "v", "type": "quantitative", "scale": {"domain": [-1.05, 1.19], "nice": false, "zero": false},
"axis": {"orient": "left", "values": [-1, -0.5, 0, 0.5, 1], "labelExpr": "'' + datum.value", "title": "I / Iₘₐₓ", "titleFontSize": 25, "labelFontSize": 22, "tickSize": -6, "labelPadding": 42, "labelAlign": "center", "titlePadding": 12}},
"detail": {"field": "k", "type": "nominal"}
}
},
{
"data": {"values": [{"label": "25 °C\u00a0\u00a0Recovery"}]},
"mark": {"type": "text", "align": "right", "baseline": "alphabetic", "dy": 4, "fontSize": 19, "font": "DejaVu Sans", "color": "black"},
"encoding": {
"text": {"field": "label"},
"x": {"datum": 4.2, "type": "quantitative", "scale": {"domain": [0, 4.2], "nice": false, "zero": false},
"axis": {"orient": "bottom", "values": [0.1, 1.6, 4.1], "labelExpr": "'' + datum.value", "title": "t [s]", "titleFontSize": 25, "labelFontSize": 22, "tickSize": -6, "labelPadding": 20, "titlePadding": 7}},
"y": {"datum": 1.19, "type": "quantitative", "scale": {"domain": [-1.05, 1.19], "nice": false, "zero": false},
"axis": {"orient": "right", "title": "BBP Channelpedia ID 29663 rep 1", "labels": false, "ticks": false, "domain": false, "titleFontSize": 13.5, "titleAngle": -90, "titleBaseline": "top", "titlePadding": 3, "titleColor": "black"}}
}
}
]
}
